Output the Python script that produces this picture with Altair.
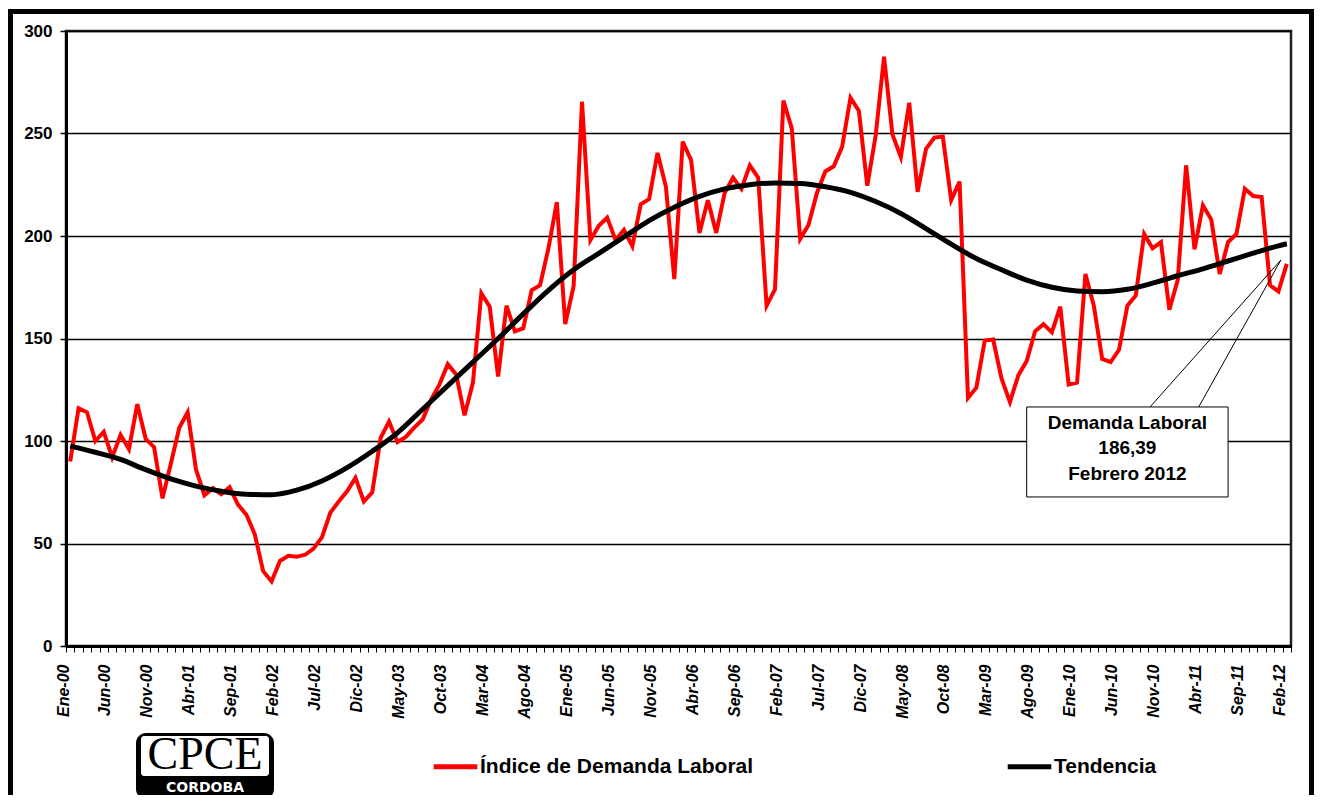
import altair as alt
import pandas as pd

# ---------------- data ----------------
tick_labels = ["Ene-00", "Jun-00", "Nov-00", "Abr-01", "Sep-01", "Feb-02", "Jul-02", "Dic-02",
               "May-03", "Oct-03", "Mar-04", "Ago-04", "Ene-05", "Jun-05", "Nov-05", "Abr-06",
               "Sep-06", "Feb-07", "Jul-07", "Dic-07", "May-08", "Oct-08", "Mar-09", "Ago-09",
               "Ene-10", "Jun-10", "Nov-10", "Abr-11", "Sep-11", "Feb-12"]

# Índice de Demanda Laboral, monthly Ene-00 .. Feb-12
indice = [90, 116, 114, 100, 104.5, 92, 103, 96, 118, 101, 97, 72,
          89, 106.5, 114, 86, 73.5, 77, 74, 77.5, 69, 64, 54.5, 36.5,
          31.5, 41.5, 44, 43.5, 44.5, 47.5, 53, 65, 70.5, 75.5, 82, 70.5,
          75, 101.5, 109.5, 99.5, 102, 106.5, 110.5, 120, 127.5, 137.5, 132.5, 112.5,
          128.5, 172, 165.5, 131.5, 166, 153.5, 155, 173.5, 176, 194, 216.5, 157,
          175.5, 265.5, 198, 205, 209, 198, 203, 195, 215.5, 218, 240.5, 224,
          179, 246, 237, 201.5, 217.5, 201.5, 221, 228.5, 223, 234.5, 228.5, 166,
          174, 266, 252.5, 198.5, 205.5, 221, 231.5, 234, 243.5, 267.5, 261, 224.5,
          249, 287.5, 249.5, 238.5, 265, 221.5, 242.5, 248, 248.5, 217.5, 226.5, 121,
          126, 149, 149.5, 130.5, 119, 132, 139, 153.5, 157, 153, 165.5, 127.5,
          128.5, 181.5, 166, 140, 138.5, 144.5, 166, 171, 201, 194, 197, 164,
          178.5, 234.5, 193.5, 215, 208, 181.5, 197, 201, 223, 219.5, 219, 176,
          173, 186.39]

# Tendencia, read every third month (plus the last one)
trend_idx = [0, 3, 6, 9, 12, 15, 18, 21, 24, 27, 30, 33, 36, 39, 42, 45, 48, 51, 54, 57,
             60, 63, 66, 69, 72, 75, 78, 81, 84, 87, 90, 93, 96, 99, 102, 105, 108, 111, 114, 117,
             120, 123, 126, 129, 132, 135, 138, 141, 144, 145]
trend_val = [97.5, 94.5, 91, 86, 81.5, 78, 75.5, 74, 73.8, 76, 80.5, 87, 95, 104, 115.5, 127,
             138.5, 150, 162, 173.5, 183.5, 191.5, 199.5, 207.5, 214, 219.3, 223, 225, 225.9,
             225.6, 224, 221.3, 216.8, 211, 203.6, 196, 189, 183.5, 178.5, 175, 173.2, 172.8,
             174, 177, 180.6, 184, 187.8, 191.6, 195.2, 196.2]

S_IDX = "Índice de Demanda Laboral"
S_TEN = "Tendencia"

df_idx = pd.DataFrame({"i": list(range(len(indice))), "valor": indice, "serie": S_IDX})
df_ten = pd.DataFrame({"i": trend_idx, "valor": trend_val, "serie": S_TEN})

# annotation box (in data units)
note_box = pd.DataFrame({"i": [114.0], "i2": [138.0], "valor": [72.7], "valor2": [116.6]})
note_lines = pd.DataFrame({"i": [128.7, 134.5], "valor": [116.6, 116.6],
                           "i2": [144.3, 144.3], "valor2": [188.3, 188.3]})
note_text = pd.DataFrame({"i": [126.0], "valor": [108.8],
                          "t": ["Demanda Laboral\n186,39\nFebrero 2012"]})

# ---------------- chart ----------------
W, H = 1225, 615
FONT = "Liberation Sans"
N = len(indice)

label_js = "[" + ",".join("'" + l + "'" for l in tick_labels) + "]"
label_expr = ("((datum.value + 0.5) % 5 == 0 && datum.value <= " + str(N - 1.5) + ") ? "
              + label_js + "[(datum.value + 0.5) / 5] : ''")

xscale = alt.Scale(domain=[-0.5, N - 0.5], nice=False, zero=False)
yscale = alt.Scale(domain=[0, 300], nice=False)

x_axis = alt.Axis(values=[k - 0.5 for k in range(N + 1)], tickCount=500, labelExpr=label_expr,
                  labelAngle=-90, labelFont=FONT, labelFontSize=16, labelFontWeight="bold",
                  labelFontStyle="italic", labelColor="black", labelOverlap=False,
                  labelFlush=False, labelOffset=-3, labelPadding=12,
                  tickSize=6, tickColor="black", tickWidth=1,
                  domainColor="black", domainWidth=3, grid=False, title=None)
y_axis = alt.Axis(values=list(range(0, 301, 50)), grid=True, gridColor="black",
                  gridWidth=1.5, gridOpacity=1, labelFont=FONT, labelFontSize=17,
                  labelFontWeight="bold", labelColor="black", labelPadding=8,
                  tickSize=6, tickColor="black", tickWidth=1.5,
                  domainColor="black", domainWidth=3, title=None)

color = alt.Color("serie:N",
                  scale=alt.Scale(domain=[S_IDX, S_TEN], range=["#FF0000", "#000000"]),
                  legend=alt.Legend(title=None, orient="none", legendX=365, legendY=711,
                                    direction="horizontal", symbolType="stroke",
                                    symbolSize=1900, symbolStrokeWidth=5,
                                    labelFont=FONT, labelFontSize=21, labelFontWeight="bold",
                                    labelColor="black", labelLimit=500, labelOffset=0,
                                    columnPadding=243, padding=0))

red = alt.Chart(df_idx).mark_line(strokeWidth=4).encode(
    x=alt.X("i:Q", scale=xscale, axis=x_axis),
    y=alt.Y("valor:Q", scale=yscale, axis=y_axis),
    color=color,
)

trend = alt.Chart(df_ten).mark_line(strokeWidth=5, interpolate="monotone").encode(
    x="i:Q", y="valor:Q", color=color,
)

box = alt.Chart(note_box).mark_rect(fill="white", stroke="black", strokeWidth=1).encode(
    x="i:Q", x2="i2", y="valor:Q", y2="valor2")

callout = alt.Chart(note_lines).mark_rule(color="black", strokeWidth=1).encode(
    x="i:Q", x2="i2", y="valor:Q", y2="valor2")

txt = alt.Chart(note_text).mark_text(font=FONT, fontSize=19, fontWeight="bold",
                                     color="black", lineBreak="\n", lineHeight=25.5,
                                     align="center", baseline="middle").encode(
    x="i:Q", y="valor:Q", text="t:N")

# outer frame and logo (decoration)
one = pd.DataFrame({"k": [0]})
frame = alt.Chart(one).mark_rect(filled=False, stroke="black", strokeWidth=5).encode(
    x=alt.value(-55.5), x2=alt.value(1245.5), y=alt.value(-19.5), y2=alt.value(830))
logo_bg = alt.Chart(one).mark_rect(color="black", cornerRadius=10).encode(
    x=alt.value(70), x2=alt.value(208), y=alt.value(702), y2=alt.value(768))
logo_in = alt.Chart(one).mark_rect(color="white", cornerRadius=3).encode(
    x=alt.value(75), x2=alt.value(203), y=alt.value(705), y2=alt.value(745))
logo_t1 = alt.Chart(one).mark_text(font="Liberation Serif", fontSize=46, color="black",
                                   align="center", baseline="alphabetic").encode(
    x=alt.value(139), y=alt.value(738), text=alt.value("CPCE"))
logo_t2 = alt.Chart(one).mark_text(font="DejaVu Sans", fontSize=14, fontWeight="bold",
                                   color="white", align="center", baseline="alphabetic").encode(
    x=alt.value(139), y=alt.value(761), text=alt.value("CORDOBA"))

chart = alt.layer(red, trend, callout, box, txt, frame, logo_bg, logo_in, logo_t1, logo_t2).properties(
    width=W, height=H,
    autosize=alt.AutoSizeParams(type="none"),
    padding={"left": 58, "top": 23, "right": 23, "bottom": 149},
).configure(background="white",
            view=alt.ViewConfig(stroke="#222222", strokeWidth=2.5))

chart.save("out.html", embed_options={"renderer": "svg", "actions": False})
